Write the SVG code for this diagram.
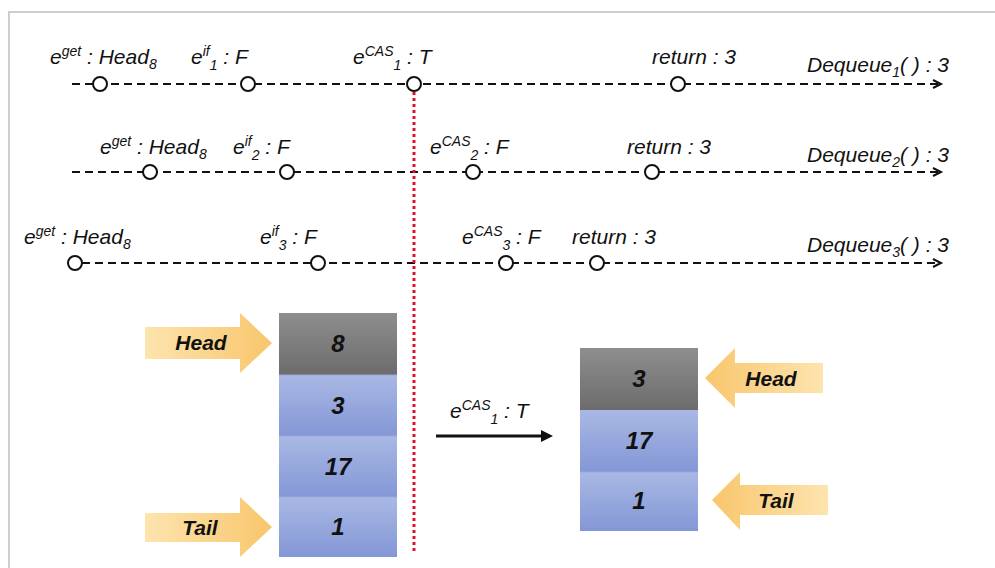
<svg xmlns="http://www.w3.org/2000/svg" width="995" height="568" viewBox="0 0 995 568">
<style>
.lbl{font-family:"Liberation Sans",Arial,sans-serif;font-style:italic;font-size:21px;fill:#111}
.sm{font-size:14px}
.tl{fill:none;stroke:#111;stroke-width:2;stroke-dasharray:8 5}
.ev{fill:#fff;stroke:#111;stroke-width:2}
.chev{fill:none;stroke:#111;stroke-width:2}
.val{font-family:"Liberation Sans",Arial,sans-serif;font-style:italic;font-weight:bold;font-size:24px;fill:#111;text-anchor:middle}
.ptr{font-family:"Liberation Sans",Arial,sans-serif;font-style:italic;font-weight:bold;font-size:21px;fill:#111;text-anchor:middle}
</style>
<defs>
<linearGradient id="gGray" x1="0" y1="0" x2="0" y2="1"><stop offset="0" stop-color="#8e8e8e"/><stop offset="1" stop-color="#6c6c6c"/></linearGradient>
<linearGradient id="gBlue" x1="0" y1="0" x2="0" y2="1"><stop offset="0" stop-color="#a9b8e4"/><stop offset="1" stop-color="#8497d6"/></linearGradient>
<linearGradient id="gOrR" x1="0" y1="0" x2="1" y2="0"><stop offset="0" stop-color="#fde4ae"/><stop offset="1" stop-color="#f8c66c"/></linearGradient>
<linearGradient id="gOrL" x1="1" y1="0" x2="0" y2="0"><stop offset="0" stop-color="#fde4ae"/><stop offset="1" stop-color="#f8c66c"/></linearGradient>
<marker id="blk" markerWidth="10" markerHeight="10" refX="1" refY="2" orient="auto" markerUnits="strokeWidth"><path d="M0,0 L4,2 L0,4 z" fill="#111"/></marker>
</defs>
<rect x="0" y="0" width="995" height="568" fill="#fff"/>
<path d="M9,568 L9,12 L995,12" fill="none" stroke="#cfcfcf" stroke-width="2"/>

<g id="connectors">
<line class="tl" x1="72" y1="84" x2="940" y2="84"/>
<polyline class="chev" points="933,80 941,84 933,88"/>
<line class="tl" x1="72" y1="172" x2="940" y2="172"/>
<polyline class="chev" points="933,168 941,172 933,176"/>
<line class="tl" x1="82" y1="263" x2="940" y2="263"/>
<polyline class="chev" points="933,259 941,263 933,267"/>
<line x1="414" y1="92" x2="414" y2="552" stroke="#e0102f" stroke-width="3" stroke-dasharray="3 3"/>
<line x1="436" y1="436" x2="544" y2="436" stroke="#111" stroke-width="3" marker-end="url(#blk)"/>
</g>

<g id="row1">
<circle class="ev" cx="100" cy="84" r="7"/>
<circle class="ev" cx="248" cy="84" r="7"/>
<circle class="ev" cx="414" cy="84" r="7"/>
<circle class="ev" cx="678" cy="84" r="7"/>
<text class="lbl" x="50" y="64">e<tspan class="sm" dy="-8">get</tspan><tspan dy="8"> : Head</tspan><tspan class="sm" dy="5">8</tspan></text>
<text class="lbl" x="191" y="64">e<tspan class="sm" dy="-8">if</tspan><tspan class="sm" dy="14">1</tspan><tspan dy="-6"> : F</tspan></text>
<text class="lbl" x="353" y="64">e<tspan class="sm" dy="-8">CAS</tspan><tspan class="sm" dy="14">1</tspan><tspan dy="-6"> : T</tspan></text>
<text class="lbl" x="652" y="64">return : 3</text>
<text class="lbl" x="807" y="72">Dequeue<tspan class="sm" dy="5">1</tspan><tspan dy="-5">( ) : 3</tspan></text>
</g>

<g id="row2">
<circle class="ev" cx="150" cy="172" r="7"/>
<circle class="ev" cx="287" cy="172" r="7"/>
<circle class="ev" cx="473" cy="172" r="7"/>
<circle class="ev" cx="652" cy="172" r="7"/>
<text class="lbl" x="100" y="154">e<tspan class="sm" dy="-8">get</tspan><tspan dy="8"> : Head</tspan><tspan class="sm" dy="5">8</tspan></text>
<text class="lbl" x="233" y="154">e<tspan class="sm" dy="-8">if</tspan><tspan class="sm" dy="14">2</tspan><tspan dy="-6"> : F</tspan></text>
<text class="lbl" x="430" y="154">e<tspan class="sm" dy="-8">CAS</tspan><tspan class="sm" dy="14">2</tspan><tspan dy="-6"> : F</tspan></text>
<text class="lbl" x="627" y="154">return : 3</text>
<text class="lbl" x="807" y="162">Dequeue<tspan class="sm" dy="5">2</tspan><tspan dy="-5">( ) : 3</tspan></text>
</g>

<g id="row3">
<circle class="ev" cx="75" cy="263" r="7"/>
<circle class="ev" cx="318" cy="263" r="7"/>
<circle class="ev" cx="506" cy="263" r="7"/>
<circle class="ev" cx="597" cy="263" r="7"/>
<text class="lbl" x="24" y="244">e<tspan class="sm" dy="-8">get</tspan><tspan dy="8"> : Head</tspan><tspan class="sm" dy="5">8</tspan></text>
<text class="lbl" x="260" y="244">e<tspan class="sm" dy="-8">if</tspan><tspan class="sm" dy="14">3</tspan><tspan dy="-6"> : F</tspan></text>
<text class="lbl" x="462" y="244">e<tspan class="sm" dy="-8">CAS</tspan><tspan class="sm" dy="14">3</tspan><tspan dy="-6"> : F</tspan></text>
<text class="lbl" x="572" y="244">return : 3</text>
<text class="lbl" x="807" y="252">Dequeue<tspan class="sm" dy="5">3</tspan><tspan dy="-5">( ) : 3</tspan></text>
</g>

<g id="queue-before">
<rect x="279" y="313" width="118" height="62" fill="url(#gGray)"/>
<rect x="279" y="375" width="118" height="61" fill="url(#gBlue)"/>
<rect x="279" y="436" width="118" height="61" fill="url(#gBlue)"/>
<rect x="279" y="497" width="118" height="60" fill="url(#gBlue)"/>
<line x1="279" y1="375" x2="397" y2="375" stroke="#9aa9d8" stroke-width="1"/>
<line x1="279" y1="436" x2="397" y2="436" stroke="#9aa9d8" stroke-width="1"/>
<line x1="279" y1="497" x2="397" y2="497" stroke="#9aa9d8" stroke-width="1"/>
<text class="val" x="338" y="352">8</text>
<text class="val" x="338" y="414">3</text>
<text class="val" x="338" y="475">17</text>
<text class="val" x="338" y="535">1</text>
</g>

<g id="head-before">
<polygon points="145,327 240,327 240,313 272,343 240,373 240,359 145,359" fill="url(#gOrR)"/>
<text class="ptr" x="201" y="350">Head</text>
</g>
<g id="tail-before">
<polygon points="145,513 240,513 240,497 272,527 240,557 240,542 145,542" fill="url(#gOrR)"/>
<text class="ptr" x="200" y="535">Tail</text>
</g>

<g id="transition">
<text class="lbl" x="450" y="418">e<tspan class="sm" dy="-8">CAS</tspan><tspan class="sm" dy="14">1</tspan><tspan dy="-6"> : T</tspan></text>
</g>

<g id="queue-after">
<rect x="580" y="348" width="118" height="62" fill="url(#gGray)"/>
<rect x="580" y="410" width="118" height="62" fill="url(#gBlue)"/>
<rect x="580" y="472" width="118" height="59" fill="url(#gBlue)"/>
<line x1="580" y1="472" x2="698" y2="472" stroke="#9aa9d8" stroke-width="1"/>
<text class="val" x="639" y="387">3</text>
<text class="val" x="639" y="449">17</text>
<text class="val" x="639" y="509">1</text>
</g>

<g id="head-after">
<polygon points="823,363 735,363 735,348 705,378 735,408 735,393 823,393" fill="url(#gOrL)"/>
<text class="ptr" x="771" y="386">Head</text>
</g>
<g id="tail-after">
<polygon points="828,485 740,485 740,472 712,500 740,530 740,515 828,515" fill="url(#gOrL)"/>
<text class="ptr" x="776" y="508">Tail</text>
</g>
</svg>
